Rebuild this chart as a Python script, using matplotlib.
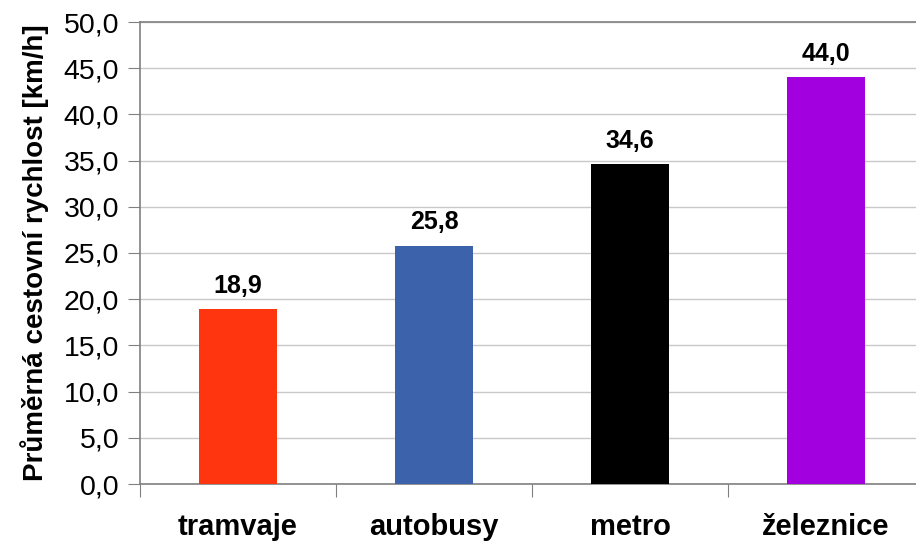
import numpy as np
import matplotlib.pyplot as plt
from matplotlib.ticker import FuncFormatter, FixedLocator

# data
categories = ['tramvaje', 'autobusy', 'metro', 'železnice']
speeds = [18.9, 25.8, 34.6, 44.0]
colors = ['#FF3510', '#3C62AC', '#000000', '#A200DF']
ylabel = 'Průměrná cestovní rychlost [km/h]'

plt.rcParams['font.family'] = ['Liberation Sans', 'DejaVu Sans']

fig = plt.figure(figsize=(9.16, 5.42), dpi=100)
# plot area runs past the right edge, like the original
ax = fig.add_axes([140 / 916, 1 - 484 / 542, 784 / 916, 462 / 542])

x = np.arange(len(categories))
ax.bar(x, speeds, width=0.4, color=colors, zorder=3)

# value labels above bars
for xi, v in zip(x, speeds):
    ax.annotate(f'{v:.1f}'.replace('.', ','), (xi, v), xytext=(0, 8),
                textcoords='offset points', ha='center', va='bottom',
                fontsize=18, fontweight='bold')

ax.set_xlim(-0.5, len(categories) - 0.5)
ax.set_ylim(0, 50)
ax.set_yticks(np.arange(0, 50.1, 5))
ax.yaxis.set_major_formatter(FuncFormatter(lambda v, p: f'{v:.1f}'.replace('.', ',')))
ax.grid(axis='y', color='#c8c8c8', linewidth=1, zorder=0)

# category boundaries as ticks, labels at centres
ax.xaxis.set_major_locator(FixedLocator(np.arange(-0.5, len(categories), 1)))
ax.xaxis.set_major_formatter(FuncFormatter(lambda v, p: ''))
ax.xaxis.set_minor_locator(FixedLocator(x))
ax.set_xticklabels(categories, minor=True, fontsize=21, fontweight='bold')
ax.tick_params(axis='x', which='major', length=9, color='#808080', direction='out')
ax.tick_params(axis='x', which='minor', length=0, pad=21)
ax.tick_params(axis='y', length=9, color='#808080', labelsize=20.5, pad=6)

ax.spines['right'].set_visible(False)
for side in ['left', 'bottom', 'top']:
    ax.spines[side].set_color('#808080')
    ax.spines[side].set_linewidth(1.2)

fig.text(35 / 916, 1 - 253 / 542, ylabel, rotation=90, ha='center', va='center',
         fontsize=20, fontweight='bold')

fig.savefig('out.png', dpi=100)
